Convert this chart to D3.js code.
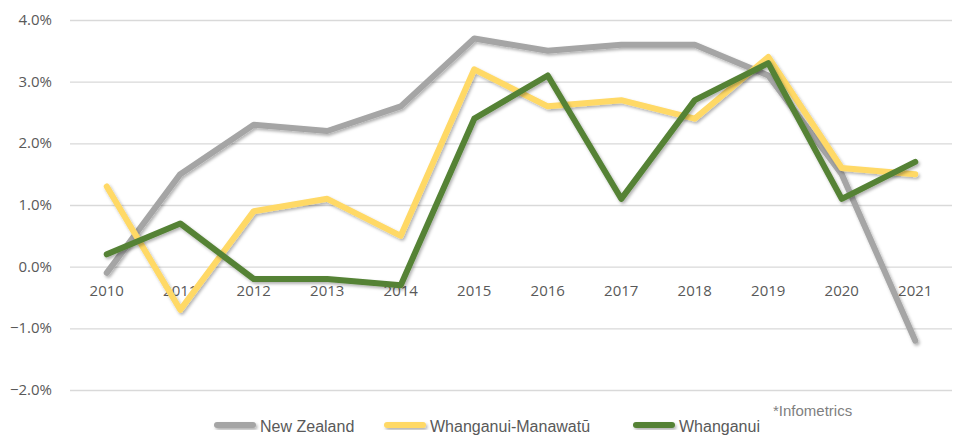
<!DOCTYPE html>
<html>
<head>
<meta charset="utf-8">
<script src="https://cdn.jsdelivr.net/npm/d3@7"></script>
<style>
  body { margin: 0; background: #fff; }
  text { font-family: "Open Sans", sans-serif; }
</style>
</head>
<body>
<script>
// data
var years = ["2010","2011","2012","2013","2014","2015","2016","2017","2018","2019","2020","2021"];
var newZealand = [-0.1, 1.5, 2.3, 2.2, 2.6, 3.7, 3.5, 3.6, 3.6, 3.1, 1.5, -1.2];
var whanganuiManawatu = [1.3, -0.7, 0.9, 1.1, 0.5, 3.2, 2.6, 2.7, 2.4, 3.4, 1.6, 1.5];
var whanganui = [0.2, 0.7, -0.2, -0.2, -0.3, 2.4, 3.1, 1.1, 2.7, 3.3, 1.1, 1.7];
var yTicks = [-2, -1, 0, 1, 2, 3, 4];

var series = [
  {name: "New Zealand", values: newZealand, color: "#a5a5a5"},
  {name: "Whanganui-Manawatū", values: whanganuiManawatu, color: "#ffd966"},
  {name: "Whanganui", values: whanganui, color: "#548235"}
];

var width = 954, height = 436;
var plotLeft = 70, plotRight = 952, plotTop = 20, plotBottom = 390;

var svg = d3.select("body").append("svg")
    .attr("width", width)
    .attr("height", height);

var defs = svg.append("defs");
var f = defs.append("filter").attr("id", "shadow")
    .attr("x", "-10%").attr("y", "-10%").attr("width", "120%").attr("height", "130%");
f.append("feDropShadow")
    .attr("dx", 1.5).attr("dy", 2)
    .attr("stdDeviation", 1.5)
    .attr("flood-color", "#000")
    .attr("flood-opacity", 0.3);

var x = d3.scaleBand().domain(years).range([plotLeft, plotRight]);
var y = d3.scaleLinear().domain([-2, 4]).range([plotBottom, plotTop]);

// gridlines
svg.append("g").selectAll("line")
  .data(yTicks)
  .join("line")
    .attr("x1", plotLeft).attr("x2", plotRight)
    .attr("y1", d => y(d) + 0.5).attr("y2", d => y(d) + 0.5)
    .attr("stroke", "#d9d9d9")
    .attr("stroke-width", 1.3);

// y labels
svg.append("g").selectAll("text")
  .data(yTicks)
  .join("text")
    .attr("x", 52)
    .attr("y", d => y(d) + 5)
    .attr("text-anchor", "end")
    .attr("fill", "#595959")
    .style("font-size", "15px")
    .text(d => d3.format(".1f")(d) + "%");

// x labels, sitting just under the zero line
svg.append("g").selectAll("text")
  .data(years)
  .join("text")
    .attr("x", d => x(d) + x.bandwidth() / 2)
    .attr("y", y(0) + 29)
    .attr("text-anchor", "middle")
    .attr("fill", "#595959")
    .style("font-size", "15px")
    .text(d => d);

var line = d3.line()
    .x((d, i) => x(years[i]) + x.bandwidth() / 2)
    .y(d => y(d));

svg.append("g").selectAll("path")
  .data(series)
  .join("path")
    .attr("d", d => line(d.values))
    .attr("fill", "none")
    .attr("stroke", d => d.color)
    .attr("stroke-width", 6)
    .attr("stroke-linejoin", "round")
    .attr("stroke-linecap", "round")
    .attr("filter", "url(#shadow)");

// legend
var legendX = [214, 384, 633];
var lg = svg.append("g").selectAll("g")
  .data(series)
  .join("g")
    .attr("transform", (d, i) => "translate(" + legendX[i] + "," + 425 + ")");
lg.append("rect")
    .attr("x", 0).attr("y", -3)
    .attr("width", 42).attr("height", 6)
    .attr("rx", 3)
    .attr("fill", d => d.color)
    .attr("filter", "url(#shadow)");
lg.append("text")
    .attr("x", 46)
    .attr("y", 7)
    .attr("fill", "#595959")
    .style("font-family", "'Liberation Sans Narrow', 'Liberation Sans', sans-serif")
    .style("font-size", "16px")
    .text(d => d.name);

svg.append("text")
    .attr("x", 773)
    .attr("y", 416)
    .attr("fill", "#7f7f7f")
    .style("font-family", "'Liberation Sans Narrow', 'Liberation Sans', sans-serif")
    .style("font-size", "15px")
    .text("*Infometrics");
</script>
</body>
</html>
